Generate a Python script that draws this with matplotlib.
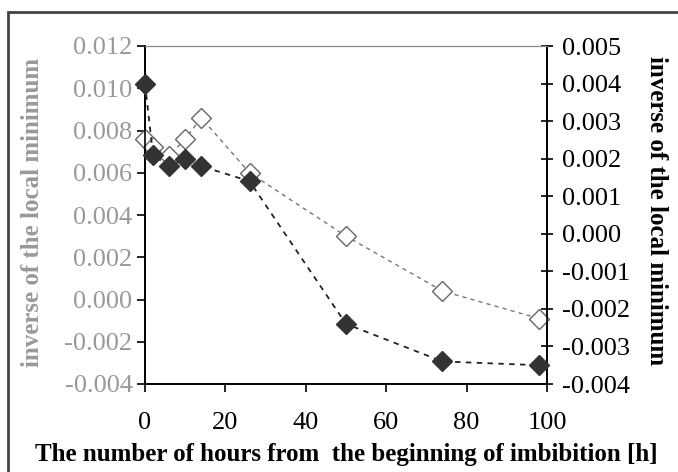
import matplotlib
matplotlib.use("Agg")
import matplotlib.pyplot as plt
import matplotlib.patches as patches

hours = [0, 2, 6, 10, 14, 26, 50, 74, 98]
# open diamonds, left (grey) axis
open_vals = [0.0076, 0.0072, 0.0068, 0.0076, 0.0086, 0.0060, 0.0030, 0.0004, -0.0009]
# filled diamonds, right (black) axis
filled_vals = [0.0040, 0.0021, 0.0018, 0.0020, 0.0018, 0.0014, -0.0024, -0.0034, -0.0035]

left_ticks = [-0.004, -0.002, 0.000, 0.002, 0.004, 0.006, 0.008, 0.010, 0.012]
right_ticks = [-0.004, -0.003, -0.002, -0.001, 0.000, 0.001, 0.002, 0.003, 0.004, 0.005]
x_ticks = [0, 20, 40, 60, 80, 100]
y_label = "inverse of the local minimum"
x_label = "The number of hours from  the beginning of imbibition [h]"

plt.rcParams["font.family"] = ["Liberation Serif", "DejaVu Serif"]
grey = "#999999"

fig = plt.figure(figsize=(6.78, 4.72), dpi=100)
fig.patch.set_facecolor("white")
fig.patches.append(patches.Rectangle((8 / 678, -0.05), 1.2, 0.05 + 1 - 12 / 472,
                                     transform=fig.transFigure, fill=False,
                                     edgecolor="#444444", linewidth=2))

ax = fig.add_axes([145 / 678, 1 - 384 / 472, (547 - 145) / 678, (384 - 46) / 472])
ax2 = ax.twinx()

ax.plot(hours, open_vals, linestyle=(0, (3, 3)), color="#777777", linewidth=1,
        marker="D", markersize=10, markerfacecolor="white", markeredgecolor="#666666",
        markeredgewidth=1, zorder=3, clip_on=False)
ax2.plot(hours, filled_vals, linestyle=(0, (3, 3)), color="#222222", linewidth=1.3,
         marker="D", markersize=10, markerfacecolor="#333333", markeredgecolor="#333333",
         zorder=3, clip_on=False)

ax.set_xlim(0, 100)
ax.set_ylim(-0.004, 0.012)
ax2.set_ylim(-0.004, 0.005)
ax.set_xticks(x_ticks)
ax.set_yticks(left_ticks)
ax2.set_yticks(right_ticks)
ax.set_yticklabels(["%.3f" % v for v in left_ticks], color=grey)
ax2.set_yticklabels(["%.3f" % v for v in right_ticks])

ax.tick_params(axis="y", direction="out", length=6, width=1.2, labelsize=19, pad=3)
ax.tick_params(axis="x", direction="out", length=6, width=1.2, labelsize=19, pad=14)
ax2.tick_params(axis="y", direction="inout", length=8, width=1.2, labelsize=19, pad=7)

for a in (ax, ax2):
    a.spines["top"].set_color("#888888")
    a.spines["left"].set_linewidth(1.2)
    a.spines["right"].set_linewidth(1.2)
    a.spines["bottom"].set_linewidth(1.2)

fig.text(346 / 678, 1 - 454 / 472, x_label, fontsize=18, fontweight="bold",
         ha="center", va="center")
fig.text(33 / 678, 1 - 212 / 472, y_label, fontsize=18, fontweight="bold",
         color=grey, rotation=90, ha="center", va="center")
fig.text(656 / 678, 1 - 211 / 472, y_label, fontsize=18, fontweight="bold",
         rotation=270, ha="center", va="center")

fig.savefig("out.png", dpi=100)
